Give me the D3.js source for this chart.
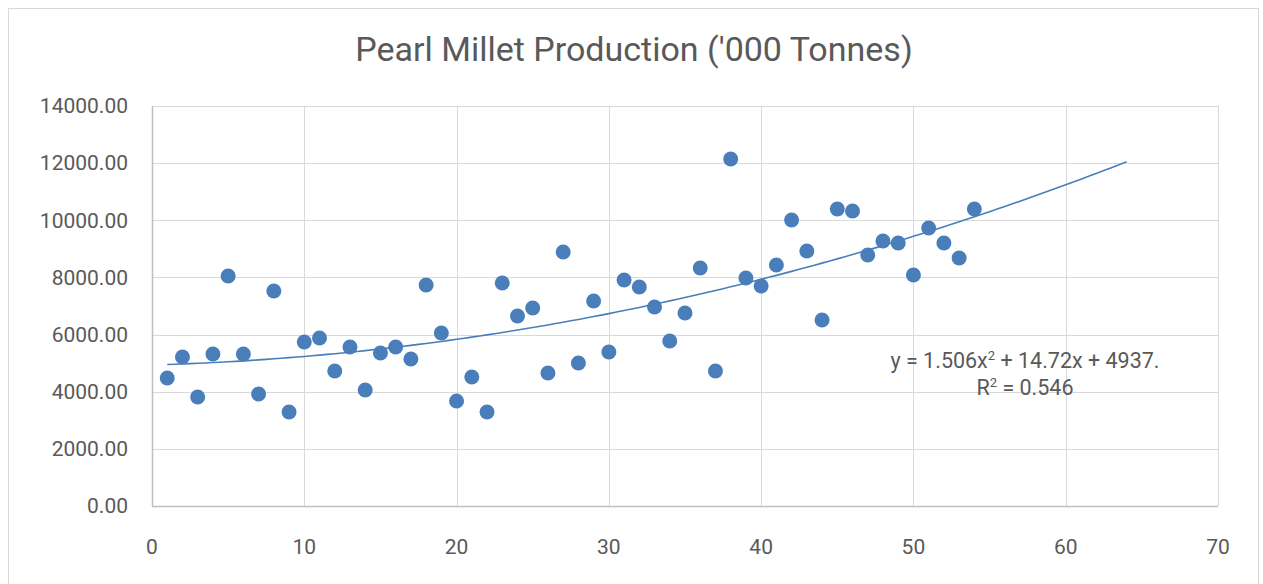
<!DOCTYPE html>
<html>
<head>
<meta charset="utf-8">
<script src="https://cdn.jsdelivr.net/npm/d3@7"></script>
<style>
  body { margin: 0; background: #fff; }
  svg text { font-family: "Roboto", "Liberation Sans", sans-serif; fill: #595959; }
</style>
</head>
<body>
<svg id="chart" width="1263" height="584"></svg>
<script>
// year index (1..54) and production ('000 tonnes)
var years = d3.range(1, 55);
var production = [
  4480, 5215, 3815, 5320, 8050, 5320, 3920, 7525, 3290, 5740,
  5880, 4725, 5565, 4060, 5355, 5565, 5145, 7735, 6055, 3675,
  4515, 3290, 7805, 6650, 6930, 4655, 8890, 5005, 7175, 5390,
  7910, 7665, 6965, 5775, 6755, 8330, 4725, 12145, 7980, 7700,
  8435, 10010, 8925, 6510, 10395, 10325, 8785, 9275, 9205, 8085,
  9730, 9205, 8680, 10395
];
// polynomial trendline coefficients (order 2) as printed on the chart
var trendCoef = [4937, 14.72, 1.506];
var trendRange = [1, 64];
var xTicks = [0, 10, 20, 30, 40, 50, 60, 70];
var yTicks = [0, 2000, 4000, 6000, 8000, 10000, 12000, 14000];

var svg = d3.select('#chart');
var blue = '#4a7ebb';

// chart frame
svg.append('rect')
    .attr('x', 8.5).attr('y', 8.5)
    .attr('width', 1250).attr('height', 600)
    .attr('fill', 'none')
    .attr('stroke', '#d9d9d9');

var x = d3.scaleLinear().domain([0, 70]).range([152, 1218]);
var y = d3.scaleLinear().domain([0, 14000]).range([506, 106]);

// gridlines
var grid = svg.append('g');
grid.selectAll('.gx').data(xTicks.slice(1)).enter().append('line')
    .attr('x1', function (d) { return Math.round(x(d)) + 0.5; })
    .attr('x2', function (d) { return Math.round(x(d)) + 0.5; })
    .attr('y1', y(14000)).attr('y2', y(0))
    .attr('stroke', '#d9d9d9');
grid.selectAll('.gy').data(yTicks.slice(1)).enter().append('line')
    .attr('x1', x(0)).attr('x2', x(70))
    .attr('y1', function (d) { return Math.round(y(d)) + 0.5; })
    .attr('y2', function (d) { return Math.round(y(d)) + 0.5; })
    .attr('stroke', '#d9d9d9');

// axis lines
svg.append('line')
    .attr('x1', x(0) + 0.5).attr('x2', x(0) + 0.5)
    .attr('y1', y(14000)).attr('y2', y(0))
    .attr('stroke', '#bfbfbf').attr('stroke-width', 1.5);
svg.append('line')
    .attr('x1', x(0)).attr('x2', x(70))
    .attr('y1', y(0) + 0.5).attr('y2', y(0) + 0.5)
    .attr('stroke', '#bfbfbf').attr('stroke-width', 1.5);

// tick labels
svg.append('g').selectAll('text').data(yTicks).enter().append('text')
    .attr('x', 128)
    .attr('y', function (d) { return y(d); })
    .attr('dy', '0.35em')
    .attr('text-anchor', 'end')
    .style('font-size', '21px')
    .text(function (d) { return d3.format('.2f')(d); });
svg.append('g').selectAll('text').data(xTicks).enter().append('text')
    .attr('x', function (d) { return x(d); })
    .attr('y', 554)
    .attr('text-anchor', 'middle')
    .style('font-size', '21px')
    .text(function (d) { return d; });

// title
svg.append('text')
    .attr('x', 634).attr('y', 61)
    .attr('text-anchor', 'middle')
    .style('font-size', '34px')
    .text("Pearl Millet Production ('000 Tonnes)");

// trendline
var trendX = d3.range(trendRange[0], trendRange[1] + 0.001, 0.5);
var line = d3.line()
    .x(function (d) { return x(d); })
    .y(function (d) { return y(trendCoef[0] + trendCoef[1] * d + trendCoef[2] * d * d); });
svg.append('path')
    .datum(trendX)
    .attr('d', line)
    .attr('fill', 'none')
    .attr('stroke', blue)
    .attr('stroke-width', 1.6);

// points
svg.append('g').selectAll('circle').data(years).enter().append('circle')
    .attr('cx', function (d) { return x(d); })
    .attr('cy', function (d, i) { return y(production[i]); })
    .attr('r', 7.5)
    .attr('fill', blue);

// equation label
var eq = svg.append('text')
    .attr('x', 1025).attr('y', 368)
    .attr('text-anchor', 'middle')
    .style('font-size', '21.5px');
eq.append('tspan').text('y = 1.506x');
eq.append('tspan').attr('dy', -8).style('font-size', '13px').text('2');
eq.append('tspan').attr('dy', 8).text(' + 14.72x + 4937.');
var r2 = svg.append('text')
    .attr('x', 1025).attr('y', 395)
    .attr('text-anchor', 'middle')
    .style('font-size', '21.5px');
r2.append('tspan').text('R');
r2.append('tspan').attr('dy', -8).style('font-size', '13px').text('2');
r2.append('tspan').attr('dy', 8).text(' = 0.546');
</script>
</body>
</html>
